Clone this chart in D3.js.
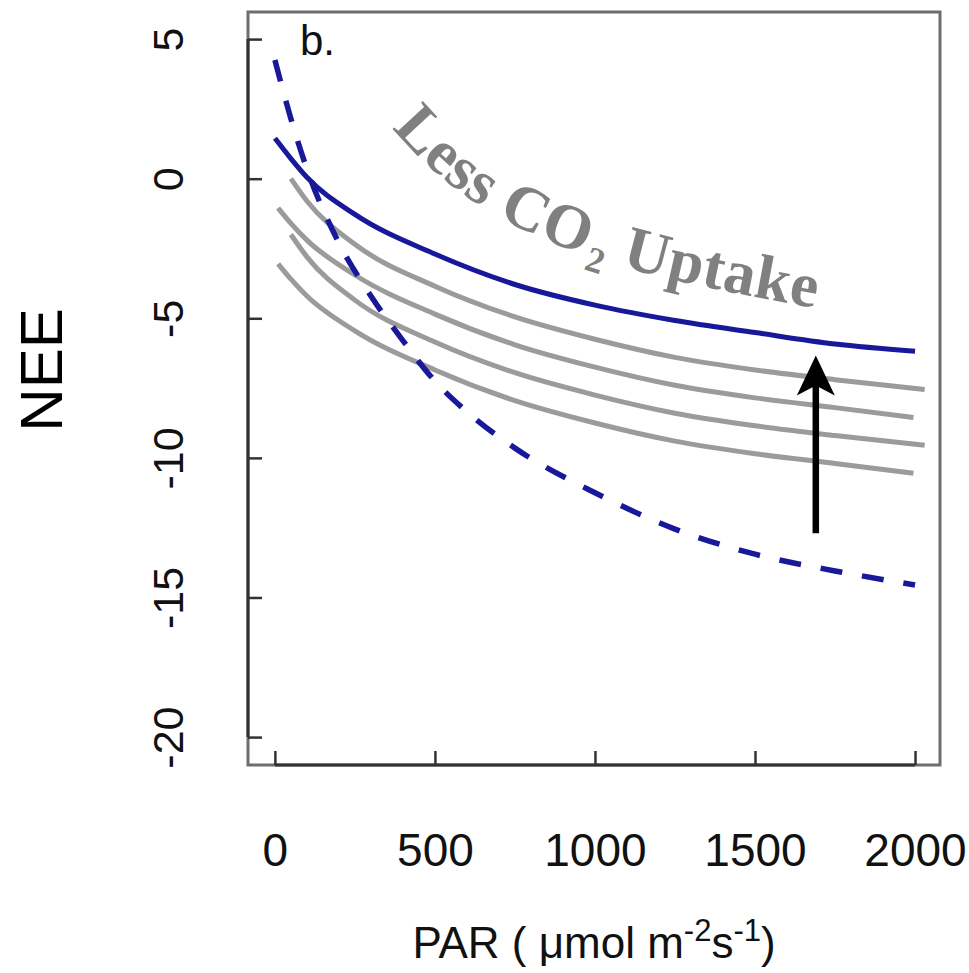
<!DOCTYPE html>
<html>
<head>
<meta charset="utf-8">
<script src="https://cdn.jsdelivr.net/npm/d3@7/dist/d3.min.js"></script>
<style>
  html, body { margin: 0; padding: 0; background: #ffffff; }
  svg { display: block; }
</style>
</head>
<body>
<svg id="chart" width="969" height="973"></svg>
<script>
// ---------------- DATA ----------------
const xTicks = [0, 500, 1000, 1500, 2000];
const yTicks = [5, 0, -5, -10, -15, -20];

// solid blue curve
const parSolid = [0, 50, 100, 250, 500, 750, 1000, 1250, 1500, 1750, 2000];
const neeSolid = [1.45, 0.72, 0.05, -1.28, -2.7, -3.79, -4.53, -5.08, -5.51, -5.92, -6.18];

// dashed blue curve
const parDash = [0, 50, 100, 200, 300, 400, 500, 600, 750, 1000, 1250, 1500, 1750, 2000];
const neeDash = [4.25, 2.15, 0.35, -2.3, -4.2, -5.8, -7.25, -8.35, -9.65, -11.25, -12.55, -13.45, -14.05, -14.55];

// four grey curves
const parGrey1 = [50, 100, 250, 500, 750, 1000, 1250, 1500, 1750, 2030];
const neeGrey1 = [0.0, -0.8, -2.35, -3.85, -4.95, -5.75, -6.4, -6.85, -7.2, -7.55];
const parGrey2 = [10, 50, 100, 250, 500, 750, 1000, 1250, 1500, 1750, 1995];
const neeGrey2 = [-1.05, -1.6, -2.2, -3.45, -4.85, -5.95, -6.75, -7.4, -7.85, -8.2, -8.55];
const parGrey3 = [50, 100, 250, 500, 750, 1000, 1250, 1500, 1750, 2030];
const neeGrey3 = [-2.0, -2.8, -4.35, -5.85, -6.95, -7.75, -8.4, -8.85, -9.2, -9.55];
const parGrey4 = [10, 50, 100, 250, 500, 750, 1000, 1250, 1500, 1750, 1995];
const neeGrey4 = [-3.05, -3.6, -4.2, -5.45, -6.85, -7.95, -8.75, -9.4, -9.85, -10.2, -10.55];

// arrow (PAR, NEE from -> to)
const arrowPar = 1690;
const arrowNee = [-12.7, -6.33];

// curved annotation: baseline as a cubic Bezier (PAR, NEE control points)
const labelText = ["Less CO", "2", " Uptake"];
const labelPath = [[366, 1.82], [666, -2.3], [1072, -3.38], [1688, -4.63]];

const xTitle = "PAR";
const yTitle = "NEE";
const panelLabel = "b.";

// ---------------- LAYOUT ----------------
const svg = d3.select("#chart");
const x = d3.scaleLinear().domain([-84, 2078]).range([248, 940]);
const y = d3.scaleLinear().domain([-21, 5.97]).range([765, 12]);

const sans = "'Liberation Sans', Arial, Helvetica, sans-serif";
const serif = "'Liberation Serif', 'Times New Roman', serif";

const line = d3.line().x(d => x(d[0])).y(d => y(d[1])).curve(d3.curveMonotoneX);
const zip = (a, b) => a.map((v, i) => [v, b[i]]);

// grey curves
[[parGrey1, neeGrey1], [parGrey2, neeGrey2], [parGrey3, neeGrey3], [parGrey4, neeGrey4]].forEach(([p, n]) => {
  svg.append("path")
    .attr("d", line(zip(p, n)))
    .attr("fill", "none")
    .attr("stroke", "#9b9b9b")
    .attr("stroke-width", 5);
});

// solid blue
svg.append("path")
  .attr("d", line(zip(parSolid, neeSolid)))
  .attr("fill", "none")
  .attr("stroke", "#18189a")
  .attr("stroke-width", 5);

// dashed blue
svg.append("path")
  .attr("d", line(zip(parDash, neeDash)))
  .attr("fill", "none")
  .attr("stroke", "#18189a")
  .attr("stroke-width", 5.5)
  .attr("stroke-dasharray", "22,20");

// arrow
const ax = x(arrowPar), ay0 = y(arrowNee[0]), ay1 = y(arrowNee[1]);
svg.append("line")
  .attr("x1", ax).attr("y1", ay0).attr("x2", ax).attr("y2", ay1 + 25)
  .attr("stroke", "#000").attr("stroke-width", 6.5);
svg.append("path")
  .attr("d", `M${ax},${ay1} L${ax + 19},${ay1 + 40} L${ax},${ay1 + 30} L${ax - 19},${ay1 + 40} Z`)
  .attr("fill", "#000");

// curved label
const lp = labelPath.map(d => [x(d[0]), y(d[1])]);
const arc = svg.append("path")
  .attr("id", "labelArc")
  .attr("d", `M${lp[0]} C${lp[1]} ${lp[2]} ${lp[3]}`)
  .attr("fill", "none");
const arcLen = arc.node().getTotalLength();
const lt = svg.append("text")
  .attr("font-family", serif)
  .attr("font-weight", "bold")
  .attr("font-size", 63)
  .attr("fill", "#808080");
const tp = lt.append("textPath").attr("href", "#labelArc")
  .attr("textLength", arcLen).attr("lengthAdjust", "spacing");
tp.append("tspan").text(labelText[0]);
tp.append("tspan").attr("font-size", 36).attr("dx", 3).attr("dy", 14).text(labelText[1]);
tp.append("tspan").attr("dy", -14).text(labelText[2]);

// box
svg.append("rect")
  .attr("x", x.range()[0]).attr("y", y.range()[1])
  .attr("width", x.range()[1] - x.range()[0])
  .attr("height", y.range()[0] - y.range()[1])
  .attr("fill", "none").attr("stroke", "#6e6e6e").attr("stroke-width", 3);

// y axis
const yAxis = svg.append("g")
  .attr("transform", `translate(${x.range()[0]},0)`)
  .call(d3.axisLeft(y).tickValues(yTicks).tickSize(-14).tickSizeOuter(0).tickFormat(d3.format("d")));
yAxis.select(".domain").remove();
yAxis.selectAll(".tick line").attr("stroke", "#333").attr("stroke-width", 2.5);
yAxis.selectAll(".tick text")
  .attr("x", null).attr("dy", null)
  .attr("transform", "translate(-65,0) rotate(-90)")
  .attr("text-anchor", "middle")
  .attr("font-family", sans).attr("font-size", 43).attr("fill", "#111")
  .text(d => d < 0 ? "-" + Math.abs(d) : d);
yAxis.append("line")
  .attr("x1", 0).attr("x2", 0)
  .attr("y1", y(yTicks[0])).attr("y2", y(yTicks[yTicks.length - 1]))
  .attr("stroke", "#333").attr("stroke-width", 3);

// x axis
const xAxis = svg.append("g")
  .attr("transform", `translate(0,${y.range()[0]})`)
  .call(d3.axisBottom(x).tickValues(xTicks).tickSize(-14).tickSizeOuter(0).tickFormat(d3.format("d")));
xAxis.select(".domain").remove();
xAxis.selectAll(".tick line").attr("stroke", "#333").attr("stroke-width", 2.5);
xAxis.selectAll(".tick text")
  .attr("y", 101).attr("dy", null)
  .attr("text-anchor", "middle")
  .attr("font-family", sans).attr("font-size", 46).attr("fill", "#111");
xAxis.append("line")
  .attr("y1", 0).attr("y2", 0)
  .attr("x1", x(xTicks[0])).attr("x2", x(xTicks[xTicks.length - 1]))
  .attr("stroke", "#333").attr("stroke-width", 3);

// x title: PAR ( µmol m^-2 s^-1 )
const xt = svg.append("text")
  .attr("x", (x.range()[0] + x.range()[1]) / 2)
  .attr("y", 958)
  .attr("text-anchor", "middle")
  .attr("font-family", sans).attr("font-size", 44).attr("fill", "#111");
xt.append("tspan").text(xTitle + " ( \u03bcmol m");
xt.append("tspan").attr("font-size", 31).attr("dy", -17).text("-2");
xt.append("tspan").attr("dy", 17).text("s");
xt.append("tspan").attr("font-size", 31).attr("dy", -17).text("-1");
xt.append("tspan").attr("dy", 17).text(")");

// y title
svg.append("text")
  .attr("transform", "translate(62,370) rotate(-90)")
  .attr("text-anchor", "middle")
  .attr("font-family", sans).attr("font-size", 60).attr("fill", "#000")
  .text(yTitle);

// panel label
svg.append("text")
  .attr("x", 300).attr("y", 55)
  .attr("font-family", sans).attr("font-size", 42).attr("fill", "#111")
  .text(panelLabel);
</script>
</body>
</html>
